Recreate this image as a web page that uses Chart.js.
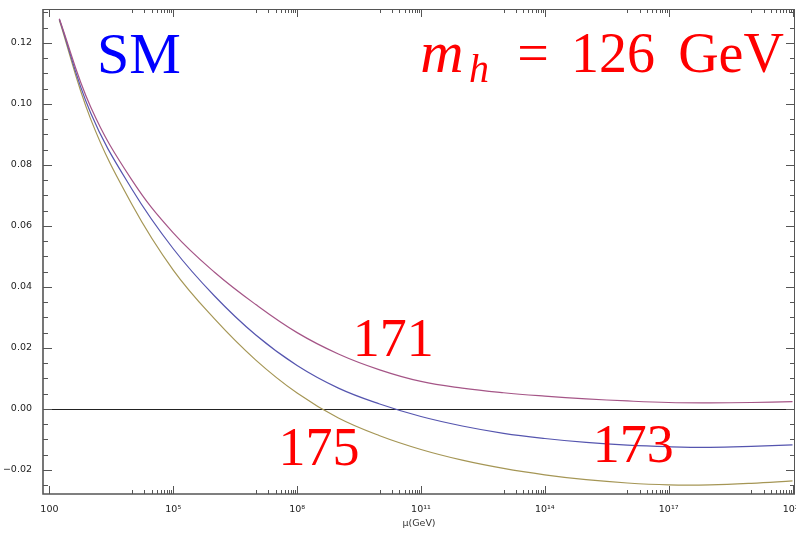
<!DOCTYPE html>
<html>
<head>
<meta charset="utf-8">
<script src="https://cdn.jsdelivr.net/npm/chart.js@4.4.0/dist/chart.umd.min.js"></script>
<style>
  html, body { margin: 0; padding: 0; background: #fff; }
  #wrap { width: 796px; height: 536px; }
</style>
</head>
<body>
<div id="wrap"><canvas id="lambdaChart"></canvas></div>
<script>
const muExp = [2.24, 3, 4, 5, 6, 7, 8, 9, 10, 11, 12, 13, 14, 15, 16, 17, 18, 19, 20];
// Higgs quartic lambda(mu) for m_t = 171, 173, 175 GeV
const lambda171 = [0.1279, 0.099, 0.075, 0.0577, 0.0448, 0.0342, 0.0250, 0.0180, 0.0128, 0.0090,
                   0.0068, 0.0053, 0.0042, 0.0033, 0.0026, 0.0021, 0.0020, 0.0021, 0.0024];
const lambda173 = [0.1278, 0.097, 0.072, 0.0525, 0.0370, 0.0242, 0.0142, 0.0068, 0.0016, -0.0025,
                   -0.0056, -0.0080, -0.0097, -0.0110, -0.0119, -0.0124, -0.0126, -0.0123, -0.0118];
const lambda175 = [0.1275, 0.095, 0.067, 0.0455, 0.0295, 0.0160, 0.0052, -0.0030, -0.0088, -0.0133,
                   -0.0168, -0.0195, -0.0216, -0.0232, -0.0243, -0.0249, -0.0249, -0.0244, -0.0236];

const xMajorExp = [2, 5, 8, 11, 14, 17, 20];
const xTickLabels = ['100', '10\u2075', '10\u2078', '10\u00b9\u00b9', '10\u00b9\u2074', '10\u00b9\u2077', '10\u00b2\u2070'];
const yMajor = [-0.02, 0, 0.02, 0.04, 0.06, 0.08, 0.10, 0.12];
const yTickLabels = ['\u22120.02', '0.00', '0.02', '0.04', '0.06', '0.08', '0.10', '0.12'];

function toPoints(vals) {
    return vals.map(function (v, i) { return { x: Math.pow(10, muExp[i]), y: v }; });
}

// tick values: majors plus 1..9 x 10^(n-1) just below each major (as Mathematica does)
const xTickValues = [];
xMajorExp.forEach(function (e) {
    if (e > 2) {
        for (let k = 1; k <= 9; k++) xTickValues.push(k * Math.pow(10, e - 1));
    }
    xTickValues.push(Math.pow(10, e));
});
const yTickValues = [];
for (let k = -5; k <= 26; k++) yTickValues.push(k * 0.005);

function xMajorIndex(v) {
    const e = Math.log10(v);
    const r = Math.round(e);
    if (Math.abs(e - r) > 1e-6) return -1;
    return xMajorExp.indexOf(r);
}
function yMajorIndex(v) {
    for (let i = 0; i < yMajor.length; i++) {
        if (Math.abs(yMajor[i] - v) < 1e-9) return i;
    }
    return -1;
}

const framePlugin = {
    id: 'frame',
    beforeDatasetsDraw(chart) {
        const ctx = chart.ctx, a = chart.chartArea;
        const y0 = Math.round(chart.scales.y.getPixelForValue(0)) + 0.5;
        ctx.save();
        ctx.strokeStyle = '#222';
        ctx.lineWidth = 1.2;
        ctx.beginPath();
        ctx.moveTo(a.left, y0);
        ctx.lineTo(a.right, y0);
        ctx.stroke();
        ctx.restore();
    },
    afterDraw(chart) {
        const ctx = chart.ctx, a = chart.chartArea;
        const xs = chart.scales.x, ys = chart.scales.y;
        ctx.save();
        ctx.strokeStyle = '#555';
        // frame
        ctx.lineWidth = 1.6;
        ctx.beginPath();
        ctx.moveTo(a.left, a.top);
        ctx.lineTo(a.left, a.bottom);
        ctx.lineTo(a.right, a.bottom);
        ctx.stroke();
        ctx.lineWidth = 1;
        ctx.beginPath();
        ctx.moveTo(a.left, a.top + 0.5);
        ctx.lineTo(a.right, a.top + 0.5);
        ctx.moveTo(a.right - 0.5, a.top);
        ctx.lineTo(a.right - 0.5, a.bottom);
        ctx.stroke();

        // inward ticks
        ctx.lineWidth = 1;
        ctx.beginPath();
        xs.ticks.forEach(function (t) {
            const px = Math.round(xs.getPixelForValue(t.value)) + 0.5;
            const len = xMajorIndex(t.value) >= 0 ? 8 : 4;
            ctx.moveTo(px, a.bottom);
            ctx.lineTo(px, a.bottom - len);
            ctx.moveTo(px, a.top);
            ctx.lineTo(px, a.top + len);
        });
        ys.ticks.forEach(function (t) {
            const py = Math.round(ys.getPixelForValue(t.value)) + 0.5;
            const len = yMajorIndex(t.value) >= 0 ? 9 : 5;
            ctx.moveTo(a.left, py);
            ctx.lineTo(a.left + len, py);
            ctx.moveTo(a.right, py);
            ctx.lineTo(a.right - len, py);
        });
        ctx.stroke();

        // text labels
        ctx.textBaseline = 'alphabetic';
        ctx.textAlign = 'center';
        ctx.fillStyle = '#0000ff';
        ctx.font = '58px "Liberation Serif"';
        ctx.fillText('SM', 139, 73);

        ctx.fillStyle = '#ff0000';
        ctx.font = 'italic 60px "Liberation Serif"';
        ctx.fillText('m', 442, 72);
        ctx.font = 'italic 40px "Liberation Serif"';
        ctx.fillText('h', 479, 82);
        ctx.font = '56px "Liberation Serif"';
        ctx.fillText('=', 533, 72);
        ctx.fillText('126', 613, 72);
        ctx.fillText('GeV', 731, 72);

        ctx.font = '54px "Liberation Serif"';
        [['171', 10.33, 0.0172], ['175', 8.53, -0.0184], ['173', 16.14, -0.0173]].forEach(function (l) {
            ctx.fillText(l[0], xs.getPixelForValue(Math.pow(10, l[1])), ys.getPixelForValue(l[2]));
        });
        ctx.restore();
    }
};

const tickFont = { family: 'DejaVu Sans', size: 9.5 };

const ctx = document.getElementById('lambdaChart').getContext('2d');
const lambdaChart = new Chart(ctx, {
    type: 'line',
    data: {
        datasets: [{
            label: '171',
            data: toPoints(lambda171),
            borderColor: 'rgb(165, 85, 135)',
            borderWidth: 1.2
        }, {
            label: '173',
            data: toPoints(lambda173),
            borderColor: 'rgb(85, 85, 175)',
            borderWidth: 1.2
        }, {
            label: '175',
            data: toPoints(lambda175),
            borderColor: 'rgb(165, 150, 85)',
            borderWidth: 1.2
        }]
    },
    options: {
        responsive: true,
        maintainAspectRatio: false,
        animation: false,
        layout: { padding: { top: 9, right: 1, left: 0, bottom: 0 } },
        elements: {
            point: { radius: 0 },
            line: { tension: 0.4, fill: false }
        },
        plugins: {
            legend: { display: false },
            tooltip: { enabled: false }
        },
        scales: {
            x: {
                type: 'logarithmic',
                min: Math.pow(10, 1.845),
                max: Math.pow(10, 20.06),
                grid: { display: false },
                border: { display: false },
                afterBuildTicks: function (scale) {
                    scale.ticks = xTickValues.map(function (v) { return { value: v }; });
                },
                afterFit: function (scale) {
                    scale.height = 42;
                    scale.paddingLeft = 0;
                    scale.paddingRight = 0;
                },
                ticks: {
                    autoSkip: false,
                    maxRotation: 0,
                    padding: 2,
                    color: '#222',
                    font: tickFont,
                    callback: function (value) {
                        const i = xMajorIndex(value);
                        return i >= 0 ? xTickLabels[i] : '';
                    }
                },
                title: {
                    display: true,
                    text: '\u03bc(GeV)',
                    color: '#333',
                    font: { family: 'DejaVu Sans', size: 9.5 },
                    padding: { top: 0, bottom: 7 }
                }
            },
            y: {
                min: -0.0279,
                max: 0.1311,
                grid: { display: false },
                border: { display: false },
                afterBuildTicks: function (scale) {
                    scale.ticks = yTickValues.map(function (v) { return { value: v }; });
                },
                afterFit: function (scale) {
                    scale.width = 43;
                    scale.paddingTop = 0;
                    scale.paddingBottom = 0;
                },
                ticks: {
                    autoSkip: false,
                    padding: 3,
                    color: '#222',
                    font: tickFont,
                    callback: function (value) {
                        const i = yMajorIndex(value);
                        return i >= 0 ? yTickLabels[i] : '';
                    }
                }
            }
        }
    },
    plugins: [framePlugin]
});
</script>
</body>
</html>
